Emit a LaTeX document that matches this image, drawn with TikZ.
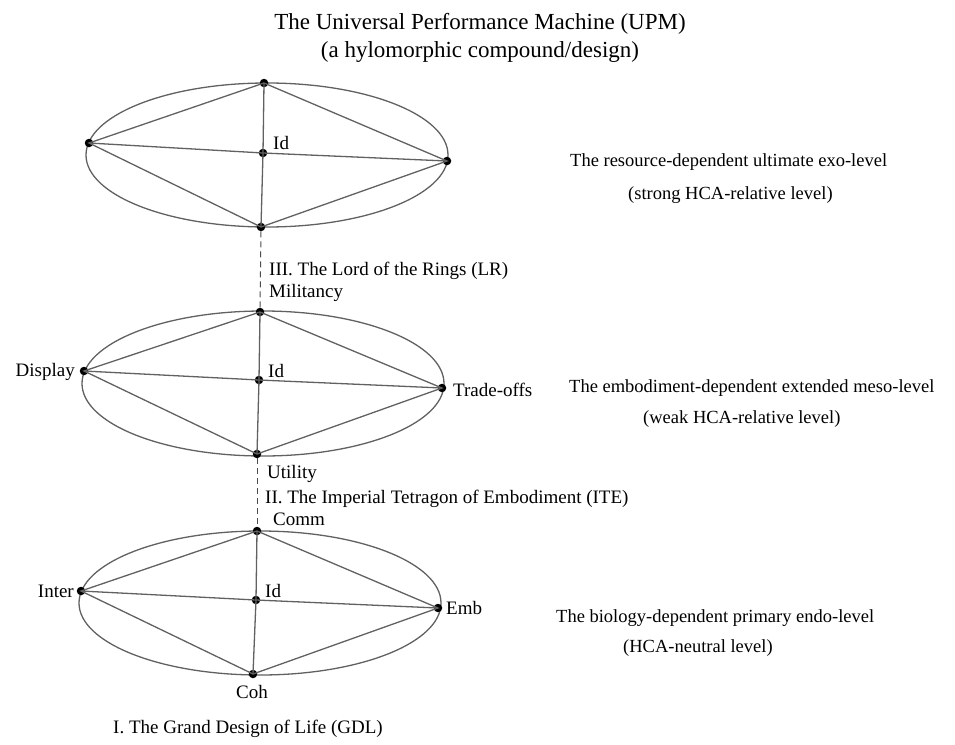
\documentclass[tikz,border=0pt]{standalone}
\usepackage{fontspec}
\setmainfont{Liberation Serif}
\begin{document}
\begin{tikzpicture}[x=1pt,y=-1pt,
  ln/.style={draw=black!62, line width=1.3pt},
  ring/.style={draw=black!62, line width=1.3pt},
  dot/.style={circle, fill=black, inner sep=0pt, minimum size=8.5pt},
  dsh/.style={draw=black!70, line width=1pt, dash pattern=on 6pt off 4pt},
  lbl/.style={inner sep=0pt, font=\fontsize{19}{22}\selectfont},
  side/.style={inner sep=0pt, font=\fontsize{18.5}{22}\selectfont},
  ttl/.style={inner sep=0pt, font=\fontsize{23}{26}\selectfont}]
\useasboundingbox (0,0) rectangle (955,744);

% title
\node[ttl, anchor=base] (title1) at (480,29) {The Universal Performance Machine (UPM)};
\node[ttl, anchor=base] (title2) at (480,57) {(a hylomorphic compound/design)};

% ellipses
\draw[ring] (267,155) ellipse [x radius=181, y radius=72];
\draw[ring] (263,383.5) ellipse [x radius=181, y radius=72.5];
\draw[ring] (260,603) ellipse [x radius=181, y radius=72];

% points, level III
\node[dot] (t1) at (264,83) {};
\node[dot] (l1) at (89,143) {};
\node[dot] (r1) at (447,161) {};
\node[dot] (b1) at (261,227) {};
\node[dot] (i1) at (263,153) {};
% level II
\node[dot] (t2) at (260,312) {};
\node[dot] (l2) at (84,371) {};
\node[dot] (r2) at (442,388) {};
\node[dot] (b2) at (257,454) {};
\node[dot] (i2) at (259,380) {};
% level I
\node[dot] (t3) at (257,531) {};
\node[dot] (l3) at (81,591) {};
\node[dot] (r3) at (438,608) {};
\node[dot] (b3) at (253,674) {};
\node[dot] (i3) at (256,600) {};

% edges
\foreach \k in {1,2,3}{
  \draw[ln] (t\k.center) -- (l\k.center) -- (b\k.center) -- (r\k.center) -- cycle;
  \draw[ln] (t\k.center) -- (i\k.center) -- (b\k.center);
  \draw[ln] (l\k.center) -- (i\k.center) -- (r\k.center);
}

% dashed links
\draw[dsh] (b1) -- (t2);
\draw[dsh] (b2) -- (t3);

% Id labels
\node[lbl, anchor=base west] (id1) at (273,149) {Id};
\node[lbl, anchor=base west] (id2) at (268,377) {Id};
\node[lbl, anchor=base west] (id3) at (265,597) {Id};

% level labels
\node[lbl, anchor=base west] (lr) at (269,275) {III. The Lord of the Rings (LR)};
\node[lbl, anchor=base west] (mil) at (269,297) {Militancy};
\node[lbl, anchor=base east] (disp) at (75,376) {Display};
\node[lbl, anchor=base west] (trade) at (453,396) {Trade-offs};
\node[lbl, anchor=base west] (util) at (267,478) {Utility};
\node[lbl, anchor=base west] (ite) at (265,503) {II. The Imperial Tetragon of Embodiment (ITE)};
\node[lbl, anchor=base west] (comm) at (273,525) {Comm};
\node[lbl, anchor=base east] (inter) at (74,597) {Inter};
\node[lbl, anchor=base west] (emb) at (446,614) {Emb};
\node[lbl, anchor=base] (coh) at (252,698) {Coh};
\node[lbl, anchor=base west] (gdl) at (113,733) {I. The Grand Design of Life (GDL)};

% side texts
\node[side, anchor=base west] (exo) at (570,166) {The resource-dependent ultimate exo-level};
\node[side, anchor=base west] (exo2) at (628,199) {(strong HCA-relative level)};
\node[side, anchor=base west] (meso) at (569,392) {The embodiment-dependent extended meso-level};
\node[side, anchor=base west] (meso2) at (643,423) {(weak HCA-relative level)};
\node[side, anchor=base west] (endo) at (556,622) {The biology-dependent primary endo-level};
\node[side, anchor=base west] (endo2) at (623,652) {(HCA-neutral level)};
\end{tikzpicture}
\end{document}
